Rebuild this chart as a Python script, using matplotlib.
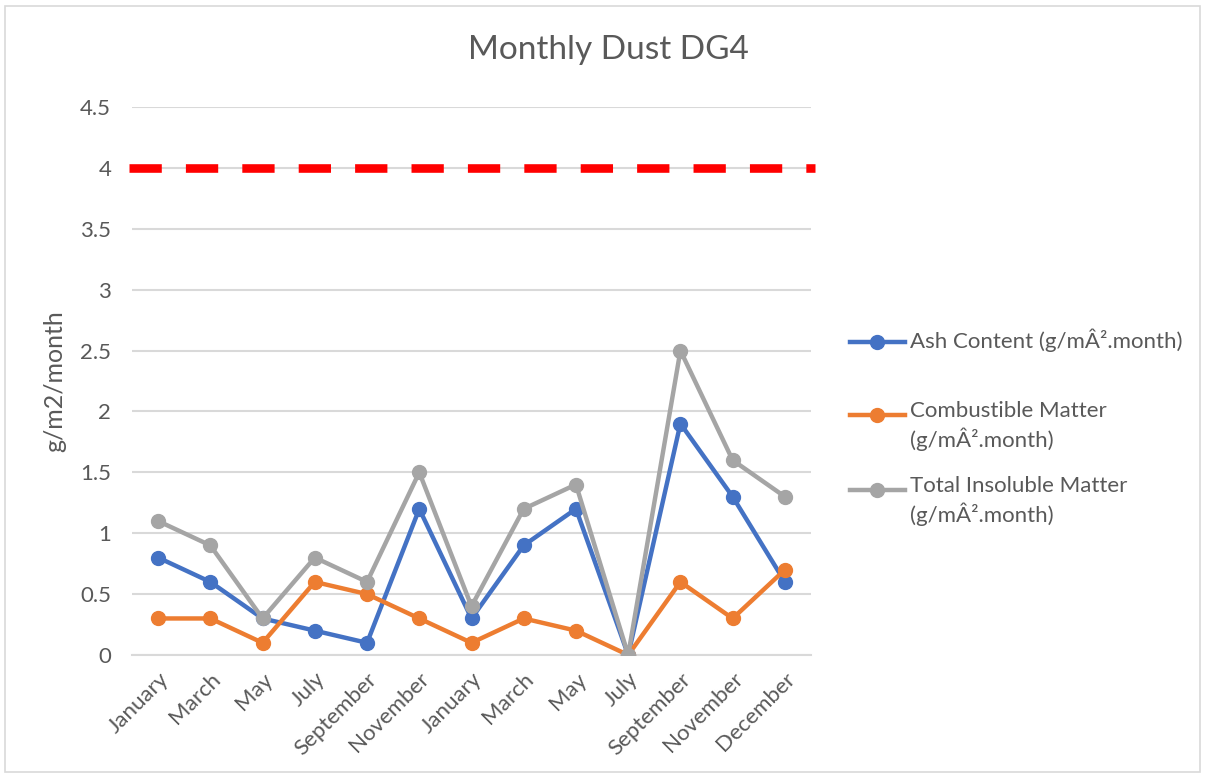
import matplotlib
matplotlib.use("Agg")
import matplotlib.pyplot as plt
from matplotlib.patches import Rectangle
from matplotlib.lines import Line2D

# -----------------------------
# Data
# -----------------------------
months = ["January", "March", "May", "July", "September", "November",
          "January", "March", "May", "July", "September", "November", "December"]
ash = [0.8, 0.6, 0.3, 0.2, 0.1, 1.2, 0.3, 0.9, 1.2, 0.0, 1.9, 1.3, 0.6]
combustible = [0.3, 0.3, 0.1, 0.6, 0.5, 0.3, 0.1, 0.3, 0.2, 0.0, 0.6, 0.3, 0.7]
total = [1.1, 0.9, 0.3, 0.8, 0.6, 1.5, 0.4, 1.2, 1.4, 0.0, 2.5, 1.6, 1.3]
limit = 4.0

series_names = ["Ash Content (g/mÂ².month)",
                "Combustible Matter\n(g/mÂ².month)",
                "Total Insoluble Matter\n(g/mÂ².month)"]
colors = ["#4472C4", "#ED7D31", "#A5A5A5"]

plt.rcParams['font.family'] = ['Lato', 'DejaVu Sans']
txt = "#595959"
grid = "#D9D9D9"
W, H = 1207, 778

fig = plt.figure(figsize=(W / 100, H / 100), dpi=100)
fig.patches.append(Rectangle((5 / W, 6 / H), 1195 / W, 766 / H,
                             transform=fig.transFigure, fill=False,
                             edgecolor=grid, lw=1.2))
ax = fig.add_axes([132 / W, 1 - 655 / H, (811 - 132) / W, (655 - 107) / H])

x = list(range(len(months)))
for vals, name, c in zip([ash, combustible, total], series_names, colors):
    ax.plot(x, vals, color=c, lw=3.2, marker='o', markersize=10,
            solid_capstyle='round', label=name, zorder=3)

# red limit line, runs a bit past the plot edges
ax.axhline(limit, xmin=-0.005, xmax=1.006, color="#FF0000", lw=6.2,
           dashes=(3.75, 2.8), clip_on=False, zorder=4)

ax.set_xlim(-0.5, len(months) - 0.5)
ax.set_ylim(0, 4.5)
ax.set_yticks([0, 0.5, 1, 1.5, 2, 2.5, 3, 3.5, 4, 4.5])
ax.set_yticklabels(["0", "0.5", "1", "1.5", "2", "2.5", "3", "3.5", "4", "4.5"])
ax.set_xticks(x)
ax.set_xticklabels(months, rotation=45, ha='right', rotation_mode='anchor')
ax.tick_params(length=0, labelsize=16, colors=txt)
ax.tick_params(axis='y', pad=15)
ax.tick_params(axis='x', pad=10)
ax.yaxis.grid(True, color=grid, lw=1.5)
ax.set_axisbelow(True)
for s in ["top", "right", "left"]:
    ax.spines[s].set_visible(False)
ax.spines["bottom"].set_color(grid)
ax.spines["bottom"].set_linewidth(1.5)

ax.set_ylabel("g/m2/month", fontsize=18, color=txt, labelpad=10)
fig.text(608 / W, 1 - 50 / H, "Monthly Dust DG4", ha='center', va='center',
         fontsize=24, color=txt)

# legend drawn by hand so the key sits level with the first text line
leg_y = [342, 415, 490]
for name, c, ly in zip(series_names, colors, leg_y):
    yf = 1 - ly / H
    fig.add_artist(Line2D([850 / W, 905 / W], [yf, yf], color=c, lw=3.2,
                          transform=fig.transFigure))
    fig.add_artist(Line2D([877 / W], [yf], color=c, marker='o', markersize=10,
                          transform=fig.transFigure))
    fig.text(910 / W, yf + 14 / H, name, ha='left', va='top', fontsize=16,
             color=txt, linespacing=1.35)

fig.savefig("out.png", dpi=100)
